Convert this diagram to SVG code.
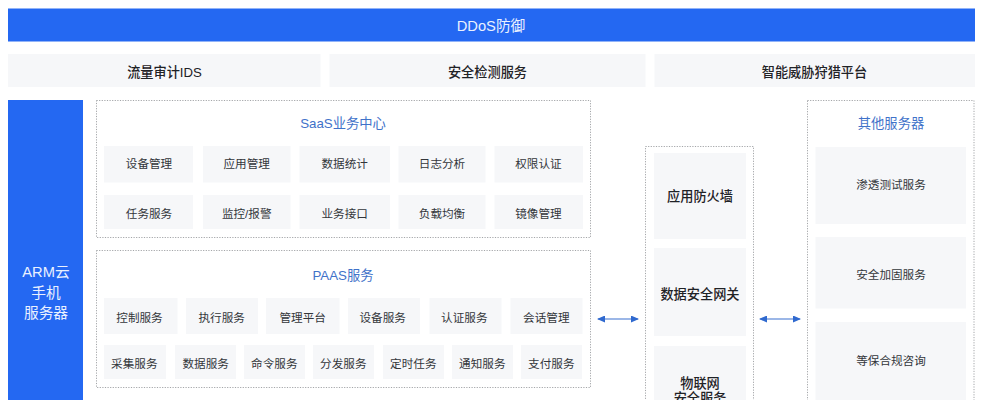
<svg xmlns="http://www.w3.org/2000/svg" width="983" height="400" viewBox="0 0 983 400">
<style>
text{font-family:"Liberation Sans","Noto Sans CJK SC",sans-serif;text-anchor:middle}
.blue{fill:#2468f2}
.cell{fill:#f6f7f9}
.box{fill:#fff;stroke:#a4a6a9;stroke-width:1;stroke-dasharray:1.2 1.4}
.t{font-size:11.6px;fill:#33363b}
.h{font-size:13.2px;fill:#1f2226;font-weight:500}
.c{font-size:13.3px;fill:#3f72c9}
.w{font-size:14.7px;fill:#eaf1ff}
.a{stroke:#3a70cf;stroke-width:1.2;fill:none;marker-start:url(#as);marker-end:url(#ae)}
</style>
<defs>
<marker id="ae" markerUnits="userSpaceOnUse" markerWidth="8" markerHeight="7" refX="7" refY="3.5" orient="auto"><path d="M0 0L8 3.5L0 7z" fill="#2f69cf"/></marker>
<marker id="as" markerUnits="userSpaceOnUse" markerWidth="8" markerHeight="7" refX="1" refY="3.5" orient="auto"><path d="M8 0L0 3.5L8 7z" fill="#2f69cf"/></marker>
</defs>
<rect width="983" height="400" fill="#fff"/>
<g id="ddos"><rect class="blue" x="8" y="8.500" width="967" height="33"/><text class="w" x="491" y="30.500">DDoS防御</text></g>
<g id="ids"><rect class="cell" x="8" y="54" width="312.500" height="33"/><text class="h" x="164.500" y="76.700">流量审计IDS</text></g>
<g id="detect"><rect class="cell" x="329.500" y="54" width="316" height="33"/><text class="h" x="487.500" y="76.700">安全检测服务</text></g>
<g id="threat"><rect class="cell" x="654.500" y="54" width="320.500" height="33"/><text class="h" x="814.500" y="76.700">智能威胁狩猎平台</text></g>
<g id="arm"><rect class="blue" x="8" y="100" width="75" height="300"/><text class="w" x="46" y="277">ARM云</text><text class="w" x="46" y="298">手机</text><text class="w" x="46" y="318">服务器</text></g>
<g id="saas">
<rect class="box" x="96.500" y="100.500" width="494" height="137"/>
<text class="c" x="343" y="127.700">SaaS业务中心</text>
</g>
<g id="s1"><rect class="cell" x="104" y="146" width="89" height="36.500"/><text class="t" x="149" y="168.300">设备管理</text></g>
<g id="s2"><rect class="cell" x="203" y="146" width="87.500" height="36.500"/><text class="t" x="246.700" y="168.300">应用管理</text></g>
<g id="s3"><rect class="cell" x="299.500" y="146" width="90.500" height="36.500"/><text class="t" x="344.700" y="168.300">数据统计</text></g>
<g id="s4"><rect class="cell" x="398.500" y="146" width="87" height="36.500"/><text class="t" x="442" y="168.300">日志分析</text></g>
<g id="s5"><rect class="cell" x="494.500" y="146" width="88.500" height="36.500"/><text class="t" x="538.400" y="168.300">权限认证</text></g>
<g id="s6"><rect class="cell" x="104" y="195" width="89" height="34"/><text class="t" x="149" y="217.500">任务服务</text></g>
<g id="s7"><rect class="cell" x="203" y="195" width="87.500" height="34"/><text class="t" x="246.700" y="217.500">监控/报警</text></g>
<g id="s8"><rect class="cell" x="299.500" y="195" width="90.500" height="34"/><text class="t" x="344.700" y="217.500">业务接口</text></g>
<g id="s9"><rect class="cell" x="398.500" y="195" width="87" height="34"/><text class="t" x="442" y="217.500">负载均衡</text></g>
<g id="s10"><rect class="cell" x="494.500" y="195" width="88.500" height="34"/><text class="t" x="538.400" y="217.500">镜像管理</text></g>
<g id="paas">
<rect class="box" x="96.500" y="250.500" width="494" height="137"/>
<text class="c" x="343" y="279.500">PAAS服务</text>
</g>
<g id="p1"><rect class="cell" x="104" y="298" width="73.500" height="36"/><text class="t" x="139.500" y="322">控制服务</text></g>
<g id="p2"><rect class="cell" x="186" y="298" width="72" height="36"/><text class="t" x="221.700" y="322">执行服务</text></g>
<g id="p3"><rect class="cell" x="266" y="298" width="73.500" height="36"/><text class="t" x="302.700" y="322">管理平台</text></g>
<g id="p4"><rect class="cell" x="348" y="298" width="72" height="36"/><text class="t" x="382.700" y="322">设备服务</text></g>
<g id="p5"><rect class="cell" x="429.500" y="298" width="72" height="36"/><text class="t" x="464.300" y="322">认证服务</text></g>
<g id="p6"><rect class="cell" x="510.500" y="298" width="72" height="36"/><text class="t" x="546.300" y="322">会话管理</text></g>
<g id="p7"><rect class="cell" x="104" y="345" width="62" height="34"/><text class="t" x="134.300" y="367.500">采集服务</text></g>
<g id="p8"><rect class="cell" x="175" y="345" width="61" height="34"/><text class="t" x="205.700" y="367.500">数据服务</text></g>
<g id="p9"><rect class="cell" x="244" y="345" width="61" height="34"/><text class="t" x="274.300" y="367.500">命令服务</text></g>
<g id="p10"><rect class="cell" x="313" y="345" width="61" height="34"/><text class="t" x="343.300" y="367.500">分发服务</text></g>
<g id="p11"><rect class="cell" x="383" y="345" width="61" height="34"/><text class="t" x="413.300" y="367.500">定时任务</text></g>
<g id="p12"><rect class="cell" x="452" y="345" width="61" height="34"/><text class="t" x="482.300" y="367.500">通知服务</text></g>
<g id="p13"><rect class="cell" x="521" y="345" width="61" height="34"/><text class="t" x="551.300" y="367.500">支付服务</text></g>
<g id="security"><rect class="box" x="645.500" y="146.500" width="108" height="260"/></g>
<g id="m1"><rect class="cell" x="654" y="153" width="92" height="86"/><text class="h" x="700" y="200.700">应用防火墙</text></g>
<g id="m2"><rect class="cell" x="654" y="248" width="92" height="88"/><text class="h" x="700" y="298.700">数据安全网关</text></g>
<g id="m3"><rect class="cell" x="654" y="346" width="92" height="60"/><text class="h" x="700" y="388">物联网</text><text class="h" x="700" y="402.500">安全服务</text></g>
<g id="other"><rect class="box" x="807.500" y="100.500" width="166.500" height="310"/><text class="c" x="891" y="128">其他服务器</text></g>
<g id="r1"><rect class="cell" x="815.500" y="147" width="150.500" height="77"/><text class="t" x="891" y="189.300">渗透测试服务</text></g>
<g id="r2"><rect class="cell" x="815.500" y="237" width="150.500" height="71.500"/><text class="t" x="891" y="278.500">安全加固服务</text></g>
<g id="r3"><rect class="cell" x="815.500" y="322" width="150.500" height="88"/><text class="t" x="891" y="364.500">等保合规咨询</text></g>
<g id="connectors">
<line class="a" x1="598" y1="319" x2="638" y2="319"/>
<line class="a" x1="760" y1="319" x2="800" y2="319"/>
</g>
</svg>
